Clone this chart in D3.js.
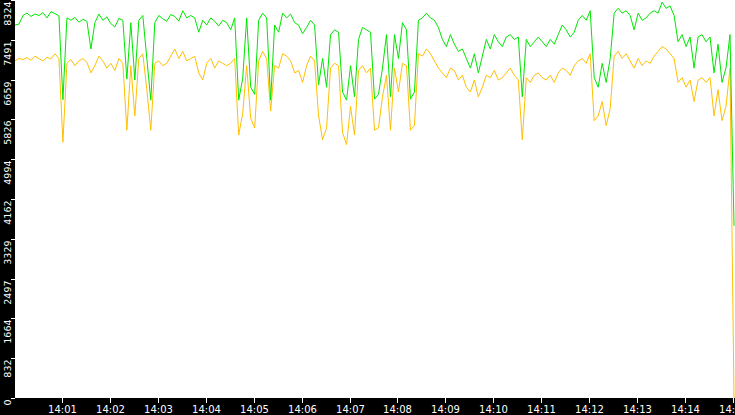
<!DOCTYPE html>
<html><head><meta charset="utf-8">
<script src="https://cdn.jsdelivr.net/npm/d3@7"></script>
<style>body{margin:0;background:#fff}svg{display:block}</style>
</head><body><svg id="c" width="735" height="415"></svg>
<script>
const startTime = "14:00:00";
const stepSeconds = 5;
const yTickLabels = ["0","832","1664","2497","3329","4162","4994","5826","6659","7491","8324"];
const xTickLabels = ["14:01","14:02","14:03","14:04","14:05","14:06","14:07","14:08","14:09","14:10","14:11","14:12","14:13","14:14","14:15"];
const greenValues = [7800,7820,8000,8050,7980,8030,8000,8060,7950,8080,8040,7990,6240,7950,7900,7960,7860,7920,7880,7300,
7850,8030,7900,7970,7830,7760,7940,7900,6670,7850,6650,7900,8000,7100,6230,7850,8000,7930,7880,8020,
7980,7880,8100,7950,8000,7950,7650,7900,7800,7950,7880,7780,7900,7850,7700,7950,6230,6680,7950,6500,
6350,7900,8050,7950,6230,7800,7650,8050,7950,8030,7850,7800,7620,7750,7900,7800,6550,7100,6500,7600,
7700,7650,6400,6230,6950,6300,7500,7750,7700,7650,6250,6350,6900,7600,6300,7600,7100,7850,7700,6250,
6400,7900,7950,8050,7950,7900,7750,7500,7350,7600,7400,7250,7300,7100,6900,7200,6800,7150,7500,7300,
7600,7450,7350,7550,7600,7500,7550,6300,7500,7350,7450,7550,7450,7350,7500,7400,7600,7800,7700,7550,
7650,7900,8000,7900,8100,6700,6500,7000,6600,7100,8050,8150,8050,8100,8000,7700,8050,7900,7950,8050,
8100,8050,8280,8150,8200,8000,7450,7600,7350,7550,6900,7550,7600,7450,7550,6800,7400,6600,6900,7600,3600];
const orangeValues = [7050,7100,7080,7120,7060,7150,7100,7050,7130,7090,7200,7100,5350,7000,7080,6950,7050,7100,7020,6800,
6950,7150,7050,6900,7000,6850,7100,7000,5600,6950,5900,7100,7200,6450,5600,7000,7050,6950,7000,7150,
7300,7100,7250,7050,7100,7150,6800,6650,7000,7100,6900,7050,7000,6950,7000,7100,5500,5950,6950,5850,
5650,7050,7250,7100,6000,6950,6900,7200,7150,7050,6800,6850,6600,6950,7150,7050,5900,5400,5650,6900,
7000,6950,5550,5300,6100,5500,6850,6950,6800,6900,5600,5650,6300,6750,5600,6900,6400,7000,6950,5600,
5700,7200,7150,7300,7200,7050,6900,6800,6700,6900,6850,6650,6750,6500,6400,6650,6300,6500,6750,6700,
6850,6650,6700,6800,6900,6750,6650,5400,6700,6600,6750,6800,6700,6650,6750,6600,6800,6900,6850,6750,
6950,7050,7100,7000,7200,5800,5900,6200,5700,6050,7150,7250,7100,7200,7050,6900,7100,6950,7050,7000,
7150,7250,7350,7300,7200,7100,6600,6700,6500,6650,6200,6650,6700,6600,6700,5900,6450,5800,6100,6900,0];

const svg = d3.select("#c");
const W = 735, H = 415, L = 15, B = 398;
const parse = d3.timeParse("%H:%M:%S");
const t0 = parse(startTime);
const tEnd = new Date(t0.getTime() + 15*60000);
const times = greenValues.map((_, i) => i === greenValues.length - 1 ? tEnd : new Date(t0.getTime() + i*stepSeconds*1000));
const x = d3.scaleTime().domain([t0, tEnd]).range([L, W - 1]);
const y = d3.scaleLinear().domain([0, 8324]).range([B, 0]);

const line = d3.line().x((d, i) => x(times[i])).y(d => y(d)).curve(d3.curveLinear);
svg.append("path").attr("d", line(orangeValues)).attr("fill","none").attr("stroke","#ffc000").attr("stroke-width",1);
svg.append("path").attr("d", line(greenValues)).attr("fill","none").attr("stroke","#00e600").attr("stroke-width",1);

svg.append("rect").attr("x",0).attr("y",0).attr("width",L).attr("height",H).attr("fill","#000");
svg.append("rect").attr("x",0).attr("y",B).attr("width",W).attr("height",H-B).attr("fill","#000");

const font = "DejaVu Sans, Verdana, sans-serif";
yTickLabels.forEach(lbl => {
  const v = +lbl, yy = Math.round(y(v)) + 0.5;
  svg.append("line").attr("x1",11).attr("x2",L).attr("y1",yy).attr("y2",yy).attr("stroke","#fff");
  const ty = Math.max(yy + 1, 1);
  svg.append("text").attr("transform",`translate(11,${ty}) rotate(-90)`)
    .attr("text-anchor","end").attr("fill","#fff").attr("font-family",font).attr("font-size","9.5px").text(lbl);
});
xTickLabels.forEach(lbl => {
  const xx = Math.round(x(parse(lbl + ":00"))) - 0.5;
  svg.append("line").attr("x1",xx).attr("x2",xx).attr("y1",B).attr("y2",B+5).attr("stroke","#fff");
  svg.append("text").attr("x",xx).attr("y",413).attr("text-anchor","middle").attr("fill","#fff")
    .attr("font-family",font).attr("font-size","10px").text(lbl);
});
</script></body></html>
